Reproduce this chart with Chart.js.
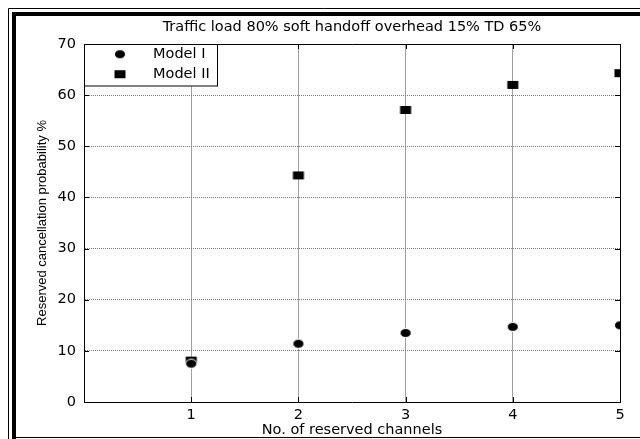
<!DOCTYPE html>
<html>
<head>
<meta charset="utf-8">
<script src="https://cdn.jsdelivr.net/npm/chart.js@4.4.1/dist/chart.umd.min.js"></script>
<style>
html,body{margin:0;padding:0;background:#fff;}
canvas{display:block;}
</style>
</head>
<body>
<canvas id="c" width="640" height="439"></canvas>
<script>
// ---- data ----
const channels = [1, 2, 3, 4, 5];
const modelI = [7.5, 11.4, 13.5, 14.7, 15.0];
const modelII = [8.1, 44.3, 57.1, 62.0, 64.3];
const seriesNames = ['Model I', 'Model II'];
const xTickValues = [1, 2, 3, 4, 5];
const yTickValues = [0, 10, 20, 30, 40, 50, 60, 70];
const chartTitle = 'Traffic load 80% soft handoff overhead 15% TD 65%';
const xAxisTitle = 'No. of reserved channels';
const yAxisTitle = 'Reserved cancellation probability %';

// ---- marker images ----
function makeMarker(kind) {
  const c = document.createElement('canvas');
  c.width = 14; c.height = 12;
  const g = c.getContext('2d');
  if (kind === 'circle') {
    g.beginPath();
    g.ellipse(7, 6, 5.5, 4.5, 0, 0, Math.PI * 2);
    g.fillStyle = '#000';
    g.fill();
    g.lineWidth = 1;
    g.strokeStyle = '#fff';
    g.stroke();
  } else {
    g.fillStyle = '#000';
    g.fillRect(1.5, 2, 11, 8);
  }
  return c;
}
const circleMarker = makeMarker('circle');
const squareMarker = makeMarker('square');

const mainFont = { family: 'DejaVu Sans', size: 14.5, weight: 'normal' };

// ---- plugins ----
const legendLayerPlugin = {
  id: 'legendLayer',
  beforeLayout(chart) {
    const lg = chart.legend;
    if (lg) {
      lg._layers = function () {
        return [{ z: 1, draw(area) { lg.draw(area); } }];
      };
    }
  },
  afterLayout(chart) {
    const lg = chart.legend;
    const a = chart.chartArea;
    if (lg) {
      lg.left = a.left + 4.75;
      lg.top = a.top - 2.5;
    }
  },
  afterDatasetsDraw(chart) {
    const ctx = chart.ctx;
    const a = chart.chartArea;
    const xs = chart.scales.x, ys = chart.scales.y;
    ctx.save();
    ctx.strokeStyle = '#000';
    ctx.lineWidth = 1;
    ctx.beginPath();
    // top & right axis lines
    ctx.moveTo(a.left, a.top + 0.5); ctx.lineTo(a.right + 0.5, a.top + 0.5);
    ctx.moveTo(a.right + 0.5, a.top); ctx.lineTo(a.right + 0.5, a.bottom + 0.5);
    // inside ticks
    xs.ticks.forEach(t => {
      const px = Math.round(xs.getPixelForValue(t.value)) + 0.5;
      ctx.moveTo(px, a.bottom); ctx.lineTo(px, a.bottom - 5);
      ctx.moveTo(px, a.top); ctx.lineTo(px, a.top + 5);
    });
    ys.ticks.forEach(t => {
      const py = Math.round(ys.getPixelForValue(t.value)) + 0.5;
      ctx.moveTo(a.left, py); ctx.lineTo(a.left + 5, py);
      ctx.moveTo(a.right, py); ctx.lineTo(a.right - 5, py);
    });
    ctx.stroke();
    // legend box
    const bx = a.left + 0.5, by = a.top + 0.5, bw = 133, bh = 41.5;
    ctx.fillStyle = '#fff';
    ctx.fillRect(bx, by, bw, bh);
    ctx.strokeRect(bx, by, bw, bh);
    ctx.restore();
  }
};

const framePlugin = {
  id: 'frame',
  afterDraw(chart) {
    const ctx = chart.ctx;
    ctx.save();
    ctx.fillStyle = '#000';
    ctx.fillRect(12, 12, 628, 4);
    ctx.fillRect(12, 12, 4, 427);
    ctx.strokeStyle = '#000';
    ctx.lineWidth = 1;
    ctx.beginPath();
    ctx.moveTo(8.5, 439); ctx.lineTo(8.5, 8.5); ctx.lineTo(640, 8.5);
    ctx.moveTo(16, 437.5); ctx.lineTo(640, 437.5);
    ctx.stroke();
    ctx.restore();
  }
};

new Chart(document.getElementById('c'), {
  type: 'scatter',
  data: {
    datasets: [
      {
        label: seriesNames[0],
        data: channels.map((x, i) => ({ x: x, y: modelI[i] })),
        pointStyle: circleMarker,
        backgroundColor: '#000',
        borderColor: '#000',
        showLine: false
      },
      {
        label: seriesNames[1],
        data: channels.map((x, i) => ({ x: x, y: modelII[i] })),
        pointStyle: squareMarker,
        backgroundColor: '#000',
        borderColor: '#000',
        showLine: false
      }
    ]
  },
  options: {
    responsive: false,
    animation: false,
    devicePixelRatio: 1,
    events: [],
    layout: { padding: { left: 0, right: 20, top: 0, bottom: 0 } },
    scales: {
      x: {
        type: 'linear',
        min: 0,
        max: 5,
        afterBuildTicks(s) { s.ticks = [0].concat(xTickValues).map(v => ({ value: v })); },
        afterFit(s) { s.height = 37; },
        ticks: {
          callback: v => (xTickValues.includes(v) ? String(v) : ''),
          font: mainFont,
          color: '#000',
          padding: 5,
          maxRotation: 0,
          autoSkip: false
        },
        grid: { color: '#a0a0a0', lineWidth: 1, drawTicks: false },
        border: { color: '#000', width: 1 },
        title: {
          display: true,
          text: xAxisTitle,
          font: mainFont,
          color: '#000',
          padding: { top: 0.3, bottom: 0 }
        }
      },
      y: {
        type: 'linear',
        min: 0,
        max: 70,
        afterBuildTicks(s) { s.ticks = yTickValues.map(v => ({ value: v })); },
        afterFit(s) { s.width = 84; },
        ticks: {
          font: mainFont,
          color: '#000',
          padding: 8,
          autoSkip: false
        },
        grid: { color: '#7a7a7a', lineWidth: 1, drawTicks: false },
        border: { color: '#000', width: 1, dash: [1, 1] },
        title: {
          display: true,
          text: yAxisTitle,
          font: { family: 'Liberation Sans', size: 13, weight: 'normal' },
          color: '#000',
          padding: { top: 34.2, bottom: 0 }
        }
      }
    },
    plugins: {
      title: {
        display: true,
        fullSize: false,
        text: chartTitle,
        font: mainFont,
        color: '#000',
        padding: { top: 18.3, bottom: 8.3 }
      },
      legend: {
        display: true,
        position: 'chartArea',
        align: 'start',
        labels: {
          usePointStyle: true,
          pointStyleWidth: 51.5,
          padding: 5.5,
          font: mainFont,
          color: '#000'
        }
      },
      tooltip: { enabled: false }
    }
  },
  plugins: [legendLayerPlugin, framePlugin]
});
</script>
</body>
</html>
